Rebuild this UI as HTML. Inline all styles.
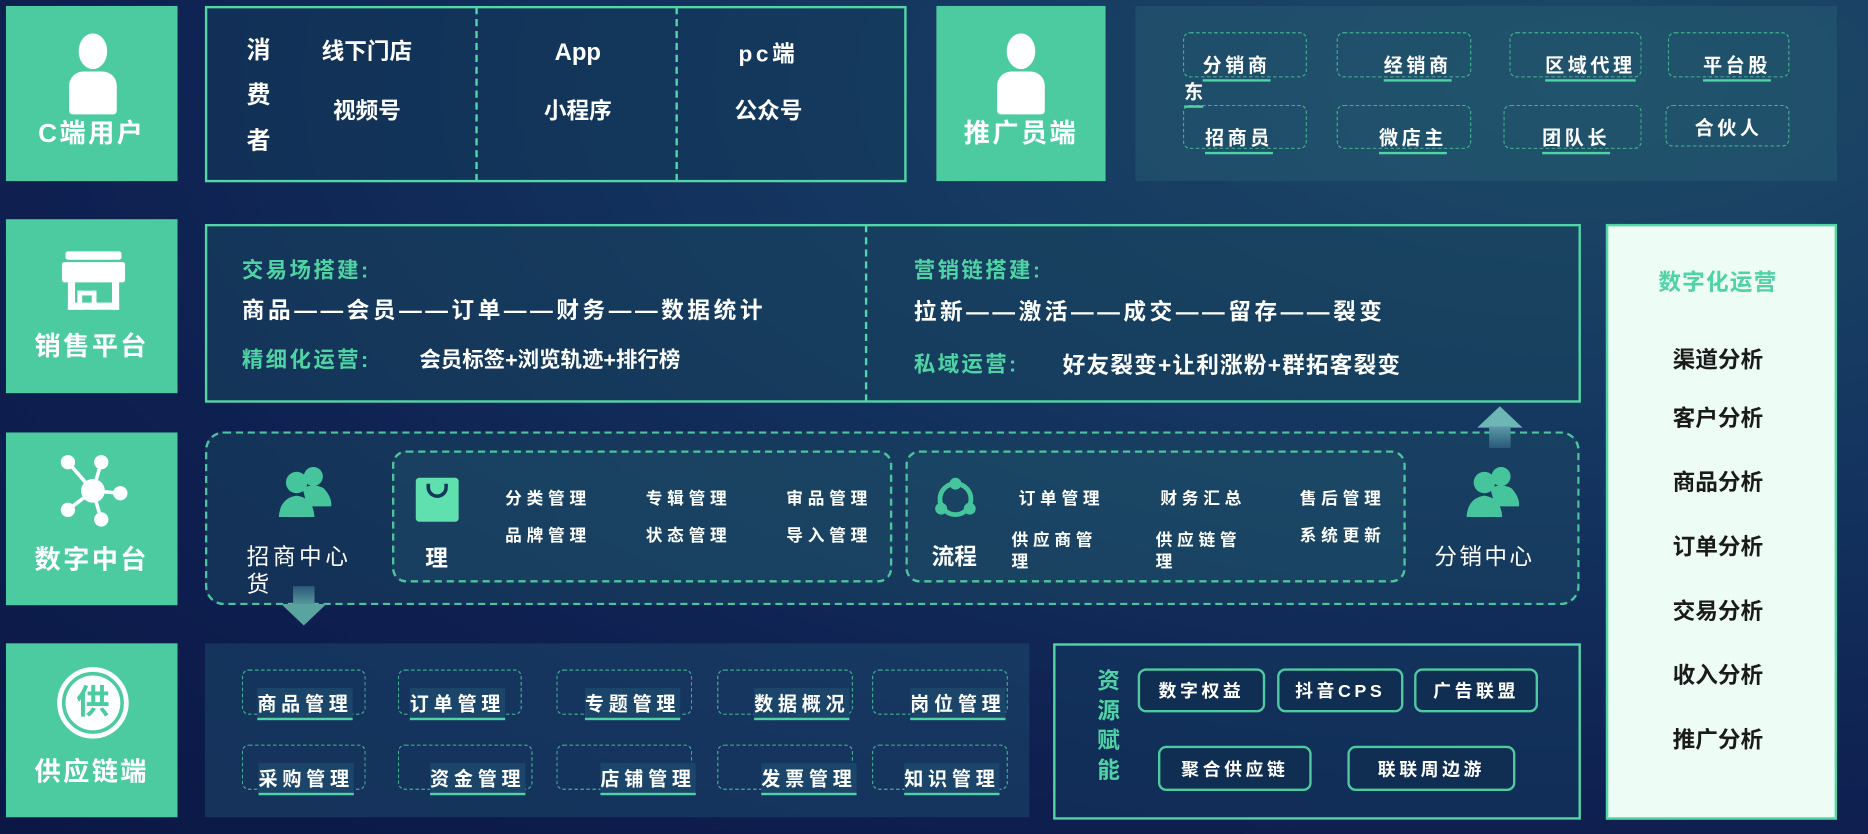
<!DOCTYPE html>
<html><head><meta charset="utf-8">
<style>
*{margin:0;padding:0;box-sizing:border-box}
html,body{width:1868px;height:834px;overflow:hidden;background:#0d1b48}
#w{position:absolute;left:0;top:0;width:1568px;height:700px;transform:scale(1.19133);transform-origin:0 0;
background:radial-gradient(ellipse at 85% 10%,#1d4a66 0%,#143660 35%,#0e1f50 70%,#0b1845 100%);
font-family:"Liberation Sans","Noto Sans CJK SC",sans-serif;color:#fff}
.a{position:absolute}
.g{background:#4ccaa0}
.lbl{position:absolute;left:0;width:144px;text-align:center;font-size:22px;color:#fff;letter-spacing:2px;font-weight:bold}
.t{position:absolute;white-space:nowrap;transform:translate(-50%,-50%);font-weight:bold}
.gr{color:#4fd3a4}
.panel{position:absolute;border:2px solid #52d6a6;background:rgba(25,70,95,.55)}
.db{position:absolute;border:2px dashed #4cc49c;border-radius:12px}
.sm{position:absolute;border:1.5px dashed #3fb08c;border-radius:6px}
.u{border-bottom:2px solid #4fd3a4;padding-bottom:1px}
.btn{position:absolute;border:2.5px solid #4fc9a0;border-radius:7px;font-size:15px;font-weight:bold;letter-spacing:3px;display:flex;align-items:center;justify-content:center;background:#102e52}
</style></head><body><div id="w">

<div class="a g" style="left:5px;top:5px;width:144px;height:147px"></div>
<div class="a g" style="left:5px;top:184px;width:144px;height:146px"></div>
<div class="a g" style="left:5px;top:363px;width:144px;height:145px"></div>
<div class="a g" style="left:5px;top:540px;width:144px;height:146px"></div>
<div class="a g" style="left:786px;top:5px;width:142px;height:147px"></div>

<div class="a" style="left:66px;top:28px;width:24px;height:30px;border-radius:50%;background:#fff"></div>
<div class="a" style="left:58px;top:60px;width:40px;height:36px;border-radius:12px 12px 3px 3px;background:#fff"></div>
<div class="a" style="left:845px;top:28px;width:24px;height:30px;border-radius:50%;background:#fff"></div>
<div class="a" style="left:837px;top:60px;width:40px;height:36px;border-radius:12px 12px 3px 3px;background:#fff"></div>
<div class="lbl" style="left:5px;top:94px">C端用户</div>
<div class="lbl" style="left:785px;top:94px">推广员端</div>

<div class="a" style="left:55px;top:211px;width:47px;height:7px;background:#fff;border-radius:2px"></div>
<div class="a" style="left:52px;top:220px;width:53px;height:17px;background:#fff;border-radius:2px"></div>
<div class="a" style="left:57px;top:237px;width:43px;height:23px;border:6px solid #fff;border-top:0"></div>
<div class="a" style="left:65px;top:244px;width:16px;height:16px;border:4px solid #fff;border-bottom:0"></div>
<div class="lbl" style="left:5px;top:273px">销售平台</div>

<svg class="a" style="left:45px;top:380px" width="64" height="64">
<g stroke="#fff" stroke-width="3"><line x1="33" y1="32" x2="12" y2="8"/><line x1="33" y1="32" x2="40" y2="8"/><line x1="33" y1="32" x2="56" y2="34"/><line x1="33" y1="32" x2="12" y2="48"/><line x1="33" y1="32" x2="40" y2="56"/></g>
<g fill="#fff"><circle cx="33" cy="32" r="10"/><circle cx="12" cy="8" r="6"/><circle cx="40" cy="8" r="6"/><circle cx="56" cy="34" r="6"/><circle cx="12" cy="48" r="6"/><circle cx="40" cy="56" r="6"/></g></svg>
<div class="lbl" style="left:5px;top:452px">数字中台</div>

<div class="a" style="left:48px;top:560px;width:60px;height:60px;border-radius:50%;border:4px solid #fff"></div>
<div class="a" style="left:55px;top:567px;width:46px;height:46px;border-radius:50%;background:#fff;color:#4ccaa0;font-size:28px;font-weight:bold;text-align:center;line-height:46px">供</div>
<div class="lbl" style="left:5px;top:630px">供应链端</div>

<div class="panel" style="left:172px;top:5px;width:589px;height:148px;background:rgba(20,60,90,.5)"></div>
<div class="a" style="left:399px;top:6px;height:146px;border-left:2px dashed #52d6a6"></div>
<div class="a" style="left:567px;top:6px;height:146px;border-left:2px dashed #52d6a6"></div>
<div class="t" style="left:217px;top:40px;font-size:20px">消</div>
<div class="t" style="left:217px;top:78px;font-size:20px">费</div>
<div class="t" style="left:217px;top:116px;font-size:20px">者</div>
<div class="t" style="left:308px;top:42px;font-size:19px">线下门店</div>
<div class="t" style="left:308px;top:92px;font-size:19px">视频号</div>
<div class="t" style="left:485px;top:45px;font-size:20px">App</div>
<div class="t" style="left:485px;top:92px;font-size:19px">小程序</div>
<div class="t" style="left:645px;top:44px;font-size:19px;letter-spacing:3px">pc端</div>
<div class="t" style="left:645px;top:92px;font-size:19px">公众号</div>

<div class="a" style="left:953px;top:5px;width:589px;height:147px;background:rgba(40,95,115,.45)"></div>
<div class="sm" style="left:993px;top:27px;width:104px;height:38px"></div>
<div class="sm" style="left:1122px;top:27px;width:113px;height:38px"></div>
<div class="sm" style="left:1267px;top:27px;width:111px;height:38px"></div>
<div class="sm" style="left:1400px;top:27px;width:102px;height:38px"></div>
<div class="sm" style="left:993px;top:88px;width:104px;height:37px"></div>
<div class="sm" style="left:1122px;top:88px;width:113px;height:37px"></div>
<div class="sm" style="left:1262px;top:88px;width:116px;height:37px"></div>
<div class="sm" style="left:1398px;top:88px;width:104px;height:35px"></div>
<div class="t u" style="left:1038px;top:55px;font-size:16px;letter-spacing:3px">分销商</div>
<div class="t u" style="left:1190px;top:55px;font-size:16px;letter-spacing:3px">经销商</div>
<div class="t u" style="left:1335px;top:55px;font-size:16px;letter-spacing:3px">区域代理</div>
<div class="t u" style="left:1458px;top:55px;font-size:16px;letter-spacing:3px">平台股</div>
<div class="t u" style="left:1002px;top:77px;font-size:16px">东</div>
<div class="t u" style="left:1040px;top:116px;font-size:16px;letter-spacing:3px">招商员</div>
<div class="t u" style="left:1186px;top:116px;font-size:16px;letter-spacing:3px">微店主</div>
<div class="t u" style="left:1323px;top:116px;font-size:16px;letter-spacing:3px">团队长</div>
<div class="t" style="left:1451px;top:106px;font-size:16px;letter-spacing:3px">合伙人</div>

<div class="panel" style="left:172px;top:188px;width:1155px;height:150px"></div>
<div class="a" style="left:726px;top:189px;height:148px;border-left:2px dashed #52d6a6"></div>
<div class="a gr" style="left:203px;top:213px;font-size:18px;font-weight:bold;letter-spacing:2px">交易场搭建:</div>
<div class="a" style="left:203px;top:246px;font-size:19px;font-weight:bold;letter-spacing:3px">商品——会员——订单——财务——数据统计</div>
<div class="a gr" style="left:203px;top:288px;font-size:18px;font-weight:bold;letter-spacing:2px">精细化运营:</div>
<div class="a" style="left:352px;top:288px;font-size:18px;font-weight:bold">会员标签+浏览轨迹+排行榜</div>
<div class="a gr" style="left:767px;top:213px;font-size:18px;font-weight:bold;letter-spacing:2px">营销链搭建:</div>
<div class="a" style="left:767px;top:247px;font-size:19px;font-weight:bold;letter-spacing:3px">拉新——激活——成交——留存——裂变</div>
<div class="a gr" style="left:767px;top:292px;font-size:18px;font-weight:bold;letter-spacing:2px">私域运营:</div>
<div class="a" style="left:892px;top:292px;font-size:19px;font-weight:bold;letter-spacing:1px">好友裂变+让利涨粉+群拓客裂变</div>

<div class="a" style="left:1348px;top:188px;width:194px;height:500px;background:#edfcf4;border:2px solid #52d6a6"></div>
<div class="t gr" style="left:1442px;top:236px;font-size:19px;letter-spacing:1px">数字化运营</div>
<div class="t" style="left:1442px;top:301px;font-size:19px;color:#1b1b1b">渠道分析</div>
<div class="t" style="left:1442px;top:350px;font-size:19px;color:#1b1b1b">客户分析</div>
<div class="t" style="left:1442px;top:404px;font-size:19px;color:#1b1b1b">商品分析</div>
<div class="t" style="left:1442px;top:458px;font-size:19px;color:#1b1b1b">订单分析</div>
<div class="t" style="left:1442px;top:512px;font-size:19px;color:#1b1b1b">交易分析</div>
<div class="t" style="left:1442px;top:566px;font-size:19px;color:#1b1b1b">收入分析</div>
<div class="t" style="left:1442px;top:620px;font-size:19px;color:#1b1b1b">推广分析</div>

<div class="db" style="left:172px;top:362px;width:1154px;height:146px;background:rgba(28,75,100,.45);border-radius:16px"></div>
<div class="db" style="left:329px;top:378px;width:420px;height:111px;background:rgba(35,85,110,.35)"></div>
<div class="db" style="left:760px;top:378px;width:420px;height:111px;background:rgba(35,85,110,.35)"></div>
<svg class="a" style="left:232px;top:388px" width="48" height="48"><g fill="#46c49c"><circle cx="31" cy="12" r="8"/><path d="M22 22 Q31 17 40 22 Q47 30 46 37 L26 37Z"/><circle cx="17" cy="17" r="9"/><path d="M2 46 Q3 30 17 28 Q31 30 32 46Z"/></g></svg>
<svg class="a" style="left:1229px;top:388px" width="48" height="48"><g fill="#46c49c"><circle cx="31" cy="12" r="8"/><path d="M22 22 Q31 17 40 22 Q47 30 46 37 L26 37Z"/><circle cx="17" cy="17" r="9"/><path d="M2 46 Q3 30 17 28 Q31 30 32 46Z"/></g></svg>
<div class="a" style="left:207px;top:453px;font-size:19px;letter-spacing:3px">招商中心</div>
<div class="a" style="left:207px;top:476px;font-size:19px">货</div>
<div class="a" style="left:1204px;top:453px;font-size:19px;letter-spacing:2px">分销中心</div>
<div class="a" style="left:349px;top:401px;width:36px;height:37px;background:#5fe0ae;border-radius:3px"></div>
<div class="a" style="left:358px;top:406px;width:18px;height:12px;border:3px solid #15385a;border-top:0;border-radius:0 0 9px 9px"></div>
<div class="a" style="left:357px;top:454px;font-size:19px;font-weight:bold">理</div>
<div class="t" style="left:460px;top:418px;font-size:14px;letter-spacing:4px">分类管理</div>
<div class="t" style="left:578px;top:418px;font-size:14px;letter-spacing:4px">专辑管理</div>
<div class="t" style="left:696px;top:418px;font-size:14px;letter-spacing:4px">审品管理</div>
<div class="t" style="left:460px;top:449px;font-size:14px;letter-spacing:4px">品牌管理</div>
<div class="t" style="left:578px;top:449px;font-size:14px;letter-spacing:4px">状态管理</div>
<div class="t" style="left:696px;top:449px;font-size:14px;letter-spacing:4px">导入管理</div>
<svg class="a" style="left:783px;top:400px" width="38" height="38"><circle cx="19" cy="19" r="13" fill="none" stroke="#46c49c" stroke-width="4"/><g fill="#46c49c"><circle cx="19" cy="6" r="5"/><circle cx="7" cy="27" r="5"/><circle cx="31" cy="27" r="5"/></g></svg>
<div class="a" style="left:782px;top:453px;font-size:19px;font-weight:bold">流程</div>
<div class="t" style="left:891px;top:418px;font-size:14px;letter-spacing:4px">订单管理</div>
<div class="t" style="left:1010px;top:418px;font-size:14px;letter-spacing:4px">财务汇总</div>
<div class="t" style="left:1127px;top:418px;font-size:14px;letter-spacing:4px">售后管理</div>
<div class="a" style="left:849px;top:444px;font-size:14px;font-weight:bold;letter-spacing:4px;line-height:18px">供应商管<br>理</div>
<div class="a" style="left:970px;top:444px;font-size:14px;font-weight:bold;letter-spacing:4px;line-height:18px">供应链管<br>理</div>
<div class="t" style="left:1127px;top:449px;font-size:14px;letter-spacing:4px">系统更新</div>
<div class="a" style="left:246px;top:492px;width:18px;height:16px;background:linear-gradient(#2a5a78,#5a9aa0)"></div>
<div class="a" style="left:236px;top:507px;width:0;height:0;border-left:19px solid transparent;border-right:19px solid transparent;border-top:18px solid #5aa4a0"></div>
<div class="a" style="left:1240px;top:341px;width:0;height:0;border-left:19px solid transparent;border-right:19px solid transparent;border-bottom:18px solid #6eb5b5"></div>
<div class="a" style="left:1250px;top:358px;width:18px;height:18px;background:linear-gradient(#5a9aa8,#2a5a78)"></div>

<div class="a" style="left:172px;top:540px;width:692px;height:146px;background:rgba(30,75,110,.5)"></div>
<div class="sm" style="left:203px;top:562px;width:104px;height:38px"></div>
<div class="sm" style="left:334px;top:562px;width:104px;height:38px"></div>
<div class="sm" style="left:467px;top:562px;width:114px;height:38px"></div>
<div class="sm" style="left:602px;top:562px;width:114px;height:38px"></div>
<div class="sm" style="left:732px;top:562px;width:114px;height:38px"></div>
<div class="sm" style="left:203px;top:625px;width:104px;height:38px"></div>
<div class="sm" style="left:334px;top:625px;width:113px;height:38px"></div>
<div class="sm" style="left:467px;top:625px;width:114px;height:38px"></div>
<div class="sm" style="left:602px;top:625px;width:114px;height:38px"></div>
<div class="sm" style="left:732px;top:625px;width:114px;height:38px"></div>
<div class="t u" style="left:256px;top:591px;font-size:16px;letter-spacing:4px;background:#1c456a">商品管理</div>
<div class="t u" style="left:384px;top:591px;font-size:16px;letter-spacing:4px;background:#1c456a">订单管理</div>
<div class="t u" style="left:531px;top:591px;font-size:16px;letter-spacing:4px;background:#1c456a">专题管理</div>
<div class="t u" style="left:673px;top:591px;font-size:16px;letter-spacing:4px;background:#1c456a">数据概况</div>
<div class="t u" style="left:804px;top:591px;font-size:16px;letter-spacing:4px;background:#1c456a">岗位管理</div>
<div class="t u" style="left:257px;top:654px;font-size:16px;letter-spacing:4px;background:#1c456a">采购管理</div>
<div class="t u" style="left:401px;top:654px;font-size:16px;letter-spacing:4px;background:#1c456a">资金管理</div>
<div class="t u" style="left:544px;top:654px;font-size:16px;letter-spacing:4px;background:#1c456a">店铺管理</div>
<div class="t u" style="left:679px;top:654px;font-size:16px;letter-spacing:4px;background:#1c456a">发票管理</div>
<div class="t u" style="left:799px;top:654px;font-size:16px;letter-spacing:4px;background:#1c456a">知识管理</div>

<div class="panel" style="left:884px;top:540px;width:443px;height:148px;background:rgba(20,60,95,.5)"></div>
<div class="a gr" style="left:921px;top:560px;font-size:19px;font-weight:bold;line-height:25px;width:22px">资源赋能</div>
<div class="btn" style="left:955px;top:561px;width:107px;height:37px">数字权益</div>
<div class="btn" style="left:1072px;top:561px;width:106px;height:37px">抖音CPS</div>
<div class="btn" style="left:1187px;top:561px;width:104px;height:37px">广告联盟</div>
<div class="btn" style="left:972px;top:626px;width:129px;height:38px">聚合供应链</div>
<div class="btn" style="left:1131px;top:626px;width:141px;height:38px">联联周边游</div>

</div></body></html>
